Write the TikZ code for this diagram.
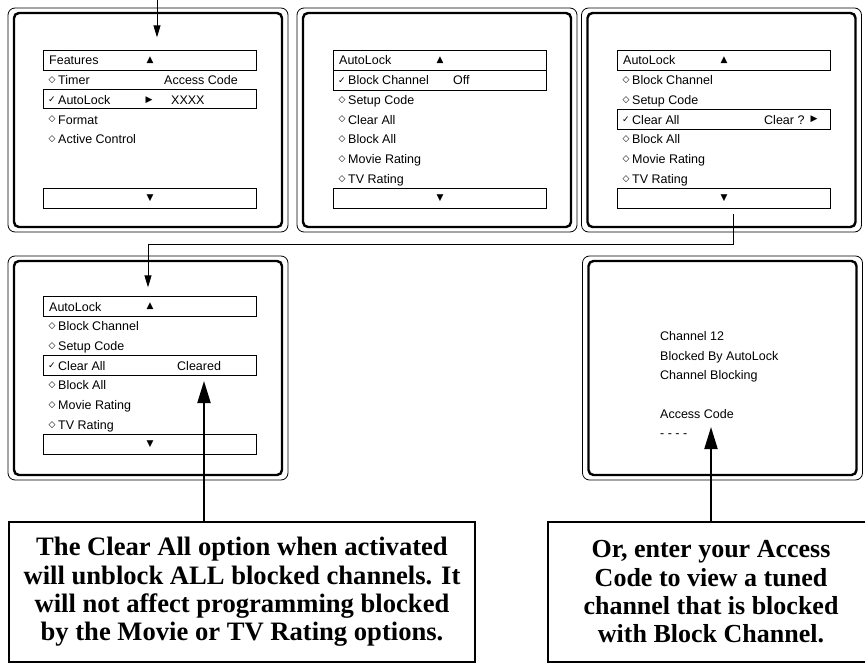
\documentclass[tikz,border=0pt]{standalone}
\usepackage{fontspec}
\setmainfont{Liberation Sans}
\newfontfamily\notefamily{Liberation Serif}
\newfontfamily\symfamily{DejaVu Sans}
\usetikzlibrary{arrows.meta}

\newcommand{\dia}{{\symfamily\fontsize{9}{9}\selectfont ◇}}
\newcommand{\chk}{{\symfamily\fontsize{9}{9}\selectfont ✓}}
\newcommand{\upsym}{{\symfamily\fontsize{9}{9}\selectfont ▲}}
\newcommand{\downsym}{{\symfamily\fontsize{9}{9}\selectfont ▼}}
\newcommand{\rightsym}{{\symfamily\fontsize{9}{9}\selectfont ▶}}

\tikzset{
  frame/.style={draw, line width=0.8pt, rounded corners=7pt, minimum width=280pt, minimum height=224pt},
  screen/.style={draw, line width=2.4pt, rounded corners=5pt, minimum width=268pt, minimum height=214pt},
  bar/.style={draw, line width=0.8pt, minimum width=213pt, minimum height=19.5pt, inner sep=0pt},
  item/.style={anchor=base west, inner sep=0pt, yshift=-4.5pt, font=\fontsize{12.5}{15}\selectfont},
  sym/.style={inner sep=0pt},
  note/.style={draw, line width=1.8pt, align=center, inner sep=0pt,
    font=\notefamily\bfseries\fontsize{26}{28.3}\selectfont},
  smallarrow/.style={line width=0.9pt, -{Triangle[width=7pt,length=12pt]}},
  bigarrow/.style={line width=2pt, -{Triangle[width=13pt,length=22pt]}}
}

\begin{document}
\begin{tikzpicture}[x=1pt,y=-1pt]
\useasboundingbox (0,0) rectangle (865,663);

% the five screens
\node[frame] (f1) at (148,120) {};
\node[screen] (s1) at (148,120) {};
\node[frame] (f2) at (437,120) {};
\node[screen] (s2) at (437,120) {};
\node[frame] (f3) at (721.5,120) {};
\node[screen] (s3) at (721.5,120) {};
\node[frame] (f4) at (148,368) {};
\node[screen] (s4) at (148,368) {};
\node[frame] (f5) at (722.5,368) {};
\node[screen] (s5) at (722.5,368) {};

% screen 1: Features
\node[bar] (s1head) at (149.5,60.5) {};
\node[item] at (49,60.5) {Features};
\node[sym] at (150,60.5) {\upsym};
\node[sym] at (52,80.2) {\dia};
\node[item] (s1r1) at (58,80.2) {Timer};
\node[item] at (164,80.2) {Access Code};
\node[bar] (s1sel) at (149.5,98.9) {};
\node[sym] at (52,99.9) {\chk};
\node[item] (s1r2) at (58,99.9) {AutoLock};
\node[sym] at (149,99.9) {\rightsym};
\node[item] at (171,99.9) {XXXX};
\node[sym] at (52,119.6) {\dia};
\node[item] (s1r3) at (58,119.6) {Format};
\node[sym] at (52,139.3) {\dia};
\node[item] (s1r4) at (58,139.3) {Active Control};
\node[bar] (s1foot) at (149.5,198.4) {};
\node[sym] at (150,198.4) {\downsym};

% screen 2: AutoLock, Block Channel
\node[bar] (s2head) at (439.5,60.5) {};
\node[item] at (339,60.5) {AutoLock};
\node[sym] at (440,60.5) {\upsym};
\node[bar] (s2sel) at (439.5,80.2) {};
\foreach \t [count=\k] in {Block Channel,Setup Code,Clear All,Block All,Movie Rating,TV Rating}{
  \ifnum\k=1
    \node[sym] at (342,{60.5+19.7*\k}) {\chk};
  \else
    \node[sym] at (342,{60.5+19.7*\k}) {\dia};
  \fi
  \node[item] (s2r\k) at (348,{60.5+19.7*\k}) {\t};
}
\node[item] at (453,80.2) {Off};
\node[bar] (s2foot) at (439.5,198.4) {};
\node[sym] at (440,198.4) {\downsym};

% screen 3: AutoLock, Clear All ?
\node[bar] (s3head) at (723.5,60.5) {};
\node[item] at (623,60.5) {AutoLock};
\node[sym] at (724,60.5) {\upsym};
\node[bar] (s3sel) at (723.5,119.6) {};
\foreach \t [count=\k] in {Block Channel,Setup Code,Clear All,Block All,Movie Rating,TV Rating}{
  \ifnum\k=3
    \node[sym] at (626,{60.5+19.7*\k}) {\chk};
  \else
    \node[sym] at (626,{60.5+19.7*\k}) {\dia};
  \fi
  \node[item] (s3r\k) at (632,{60.5+19.7*\k}) {\t};
}
\node[item] at (764,119.6) {Clear ?};
\node[sym] at (814,119.6) {\rightsym};
\node[bar] (s3foot) at (723.5,198.4) {};
\node[sym] at (724,198.4) {\downsym};

% screen 4: AutoLock, Cleared
\node[bar] (s4head) at (149.5,306.5) {};
\node[item] at (49,306.5) {AutoLock};
\node[sym] at (150,306.5) {\upsym};
\node[bar] (s4sel) at (149.5,365.6) {};
\foreach \t [count=\k] in {Block Channel,Setup Code,Clear All,Block All,Movie Rating,TV Rating}{
  \ifnum\k=3
    \node[sym] at (52,{306.5+19.7*\k}) {\chk};
  \else
    \node[sym] at (52,{306.5+19.7*\k}) {\dia};
  \fi
  \node[item] (s4r\k) at (58,{306.5+19.7*\k}) {\t};
}
\node[item] at (177,365.6) {Cleared};
\node[bar] (s4foot) at (149.5,444.4) {};
\node[sym] at (150,444.4) {\downsym};

% screen 5: blocked channel
\node[item] (s5r1) at (660,336) {Channel 12};
\node[item] (s5r2) at (660,355.5) {Blocked By AutoLock};
\node[item] (s5r3) at (660,375) {Channel Blocking};
\node[item] (s5r4) at (660,414) {Access Code};
\node[item] (s5r5) at (660,433) {- - - -};

% notes
\node[note, minimum width=466pt, minimum height=140pt, font=\notefamily\bfseries\fontsize{26.6}{28.3}\selectfont] (noteL) at (242,592)
  {The Clear All option when activated\\will unblock ALL blocked channels. It\\will not affect programming blocked\\by the Movie or TV Rating options.};
\node[note, minimum width=326pt, minimum height=140pt] (noteR) at (711,592)
  {Or, enter your Access\\Code to view a tuned\\channel that is blocked\\with Block Channel.};

% connectors
\coordinate (start) at (157,0);
\draw[smallarrow, shorten >=13pt] (start) -- (start |- s1head.north);
\coordinate (s3out) at (733,214);
\coordinate (bend) at (148,244);
\draw[smallarrow, shorten >=9pt] (s3out) |- (bend) -- (bend |- s4head.north);
\coordinate (tipL) at (204,381);
\draw[bigarrow] (noteL.north -| tipL) -- (tipL);
\coordinate (tipR) at (711,427);
\draw[bigarrow] (noteR.north -| tipR) -- (tipR);
\end{tikzpicture}
\end{document}
